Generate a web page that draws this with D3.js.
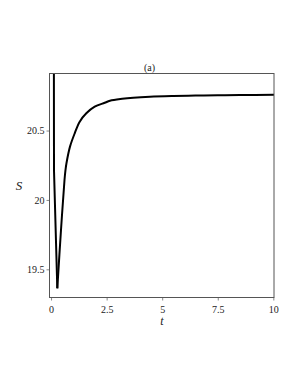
<!DOCTYPE html>
<html>
<head>
<meta charset="utf-8">
<script src="https://cdn.jsdelivr.net/npm/d3@7"></script>
<style>
  body { margin: 0; background: #fff; }
  svg text { font-family: "Liberation Serif", "DejaVu Serif", serif !important; fill: #222; }
</style>
</head>
<body>
<div class="chart"></div>
<script>
// chart data
var tValues = [0.125, 0.132, 0.281, 0.447, 0.605, 0.650, 0.695, 0.852, 1.064, 1.289, 1.586, 1.963, 2.413, 2.65, 3.20, 3.70, 4.45, 5.5, 6.5, 7.5, 8.5, 10.05];
var sValues = [21.40, 20.216, 19.363, 19.783, 20.144, 20.216, 20.266, 20.384, 20.480, 20.564, 20.624, 20.672, 20.700, 20.715, 20.729, 20.737, 20.744, 20.749, 20.752, 20.754, 20.756, 20.758];
var xTicks = [0, 2.5, 5, 7.5, 10];
var yTicks = [19.5, 20, 20.5];
var title = "(a)";

var W = 300, H = 388;
var box = {left: 49.5, right: 274, top: 73.5, bottom: 297.5};

var svg = d3.select(".chart")
  .append("svg")
    .attr("width", W)
    .attr("height", H);

var x = d3.scaleLinear().domain([-0.07, 10.03]).range([box.left, box.right]);
var y = d3.scaleLinear().domain([19.297, 20.911]).range([box.bottom, box.top]);

//clip so the steep start stays inside the frame
svg.append("clipPath").attr("id", "clip")
  .append("rect")
    .attr("x", box.left).attr("y", box.top)
    .attr("width", box.right - box.left).attr("height", box.bottom - box.top);

var points = tValues.map(function(t, i){ return {t: t, s: sValues[i]}; });

//straight down into the dip, smooth climb out of it
var line = d3.line()
  .x(function(d){ return x(d.t); })
  .y(function(d){ return y(d.s); })
  .curve(d3.curveCatmullRom.alpha(0.5));

svg.append("path")
  .datum(points.slice(0, 3))
  .attr("clip-path", "url(#clip)")
  .attr("d", d3.line().x(function(d){ return x(d.t); }).y(function(d){ return y(d.s); }))
  .attr("fill", "none")
  .attr("stroke", "#000")
  .attr("stroke-width", 2)
  .attr("stroke-linejoin", "round");

svg.append("path")
  .datum(points.slice(2))
  .attr("clip-path", "url(#clip)")
  .attr("d", line)
  .attr("fill", "none")
  .attr("stroke", "#000")
  .attr("stroke-width", 2)
  .attr("stroke-linejoin", "round");

//axes
var xAxis = svg.append("g")
  .attr("transform", "translate(0," + box.bottom + ")")
  .call(d3.axisBottom(x).tickValues(xTicks).tickSize(3).tickPadding(5).tickFormat(d3.format("")));
var yAxis = svg.append("g")
  .attr("transform", "translate(" + box.left + ",0)")
  .call(d3.axisLeft(y).tickValues(yTicks).tickSize(3).tickPadding(2).tickFormat(d3.format("")));

[xAxis, yAxis].forEach(function(g){
  g.attr("font-family", null);
  g.select(".domain").remove();
  g.selectAll("line").attr("stroke", "#888");
  g.selectAll("text").attr("font-size", 10).attr("fill", "#222");
});

//frame
svg.append("rect")
  .attr("x", box.left).attr("y", box.top)
  .attr("width", box.right - box.left).attr("height", box.bottom - box.top)
  .attr("fill", "none")
  .attr("stroke", "#555")
  .attr("stroke-width", 1);

//labels
svg.append("text")
  .attr("x", 149.5).attr("y", 71)
  .attr("text-anchor", "middle")
  .attr("font-size", 10)
  .text(title);

svg.append("text")
  .attr("x", 19).attr("y", 190)
  .attr("text-anchor", "middle")
  .attr("font-size", 13)
  .attr("font-style", "italic")
  .text("S");

svg.append("text")
  .attr("x", 162).attr("y", 325)
  .attr("text-anchor", "middle")
  .attr("font-size", 12)
  .attr("font-style", "italic")
  .text("t");
</script>
</body>
</html>
